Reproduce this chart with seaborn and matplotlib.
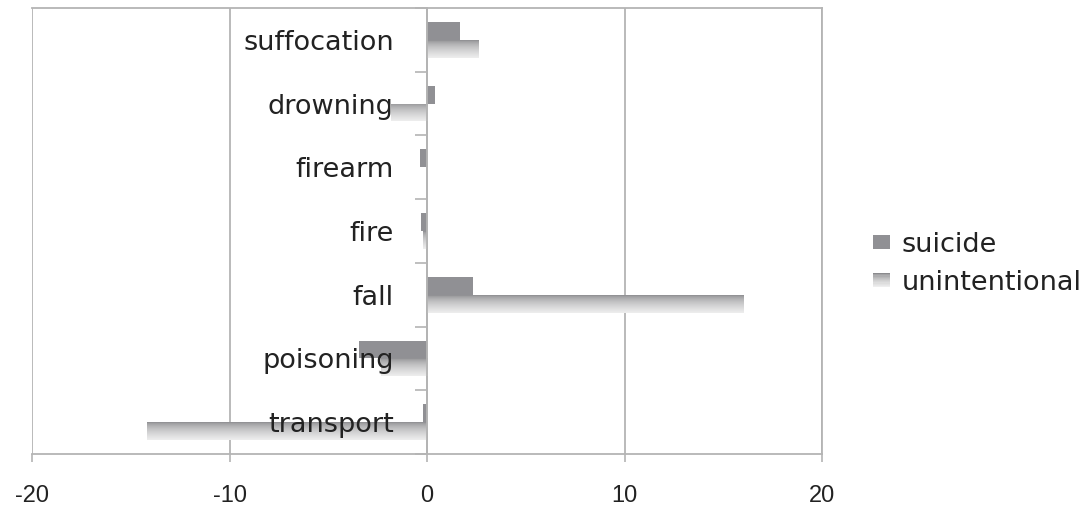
import numpy as np
import pandas as pd
import matplotlib
matplotlib.use("Agg")
import matplotlib.pyplot as plt
import seaborn as sns
from matplotlib.patches import Rectangle
from matplotlib.legend_handler import HandlerBase
from matplotlib.ticker import FixedLocator

# Data: change in rate by cause of injury death
categories = ["suffocation", "drowning", "firearm", "fire", "fall", "poisoning", "transport"]
suicide = [1.65, 0.4, -0.36, -0.28, 2.35, -3.46, -0.22]
unintentional = [2.63, -1.83, 0.0, -0.2, 16.05, -2.33, -14.16]
series_names = ["suicide", "unintentional"]
x_ticks = [-20, -10, 0, 10, 20]

SUICIDE_COLOR = "#909094"
GRAD_TOP = np.array([138, 138, 141]) / 255
GRAD_BOTTOM = np.array([238, 238, 238]) / 255
GRID_COLOR = "#b4b4b4"
TEXT_COLOR = "#222222"

df = pd.DataFrame({
    "cause": categories * 2,
    "value": suicide + unintentional,
    "kind": [series_names[0]] * len(categories) + [series_names[1]] * len(categories),
})

sns.set_theme(style="white")
plt.rcParams["font.family"] = ["DejaVu Sans"]

fig = plt.figure(figsize=(10.9, 5.08), dpi=100)
ax = fig.add_axes([32 / 1090, 1 - 454 / 508, (822 - 32) / 1090, (454 - 8) / 508])

sns.barplot(
    data=df, y="cause", x="value", hue="kind", orient="h",
    order=categories, hue_order=series_names,
    palette=[SUICIDE_COLOR, "#d0d0d0"], width=0.56, saturation=1,
    errorbar=None, linewidth=0, ax=ax, legend=False,
)


def gradient_image(n=64):
    t = np.linspace(0, 1, n) ** 0.6
    cols = GRAD_TOP[None, :] * (1 - t[:, None]) + GRAD_BOTTOM[None, :] * t[:, None]
    return cols[:, None, :]


# Gradient fill for the unintentional bars
ax.set_xlim(-20, 20)
ax.set_ylim(len(categories) - 0.5, -0.5)
for patch in ax.containers[1]:
    x0, w = patch.get_x(), patch.get_width()
    y0, h = patch.get_y(), patch.get_height()
    if abs(w) < 1e-9:
        continue
    xl, xr = min(x0, x0 + w), max(x0, x0 + w)
    yt, yb = min(y0, y0 + h), max(y0, y0 + h)
    im = ax.imshow(gradient_image(), extent=(xl, xr, yb, yt), origin="upper",
                   aspect="auto", interpolation="bilinear", zorder=patch.get_zorder())
    im.set_clip_path(patch)
    patch.set_facecolor("none")
ax.set_xlim(-20, 20)
ax.set_ylim(len(categories) - 0.5, -0.5)

# Vertical gridlines and frame
ax.set_xticks(x_ticks)
ax.set_xticklabels([str(v) for v in x_ticks], fontsize=17,
                   family=["Liberation Sans", "DejaVu Sans"], color=TEXT_COLOR)
ax.grid(axis="x", color=GRID_COLOR, linewidth=1.3)
ax.grid(axis="y", visible=False)
ax.set_axisbelow(True)
for name, sp in ax.spines.items():
    sp.set_color(GRID_COLOR)
    sp.set_linewidth(1.3)
ax.spines["left"].set_position(("data", 0))
ax.spines["left"].set_zorder(5)
ax.tick_params(axis="x", direction="out", length=6, width=1.2, color=GRID_COLOR, pad=16, bottom=True)

# Category axis through zero, ticks between categories; labels sit over the bars
ax.set_yticks(range(len(categories)))
ax.set_yticklabels(categories, fontsize=19.5, color=TEXT_COLOR)
ax.yaxis.set_minor_locator(FixedLocator(np.arange(-0.5, len(categories), 1.0)))
ax.tick_params(axis="y", which="major", length=0, pad=24, left=True)
ax.tick_params(axis="y", which="minor", length=8.6, width=1.2, color=GRID_COLOR, direction="out", left=True)
ax.yaxis.set_zorder(5)
ax.set_xlabel("")
ax.set_ylabel("")


class GradientHandler(HandlerBase):
    def create_artists(self, legend, orig_handle, xdescent, ydescent, width, height, fontsize, trans):
        n = 12
        img = gradient_image(n)[:, 0, :]
        arts = []
        for i in range(n):
            r = Rectangle((-xdescent, -ydescent + height * (n - 1 - i) / n), width, height / n + 0.3,
                          facecolor=img[i], edgecolor="none", transform=trans)
            arts.append(r)
        return arts


h1 = Rectangle((0, 0), 1, 1, facecolor=SUICIDE_COLOR, edgecolor="none")
h2 = Rectangle((0, 0), 1, 1, facecolor="#cccccc", edgecolor="none")
fig.legend(
    [h1, h2], series_names, loc="center left",
    bbox_to_anchor=(873 / 1090, 1 - 264 / 508),
    frameon=False, fontsize=19.5, handlelength=0.62, handleheight=0.42,
    handletextpad=0.45, labelspacing=0.45, borderpad=0, borderaxespad=0,
    handler_map={h2: GradientHandler()},
    labelcolor=TEXT_COLOR,
)

fig.savefig("out.png", dpi=100, facecolor="white")
